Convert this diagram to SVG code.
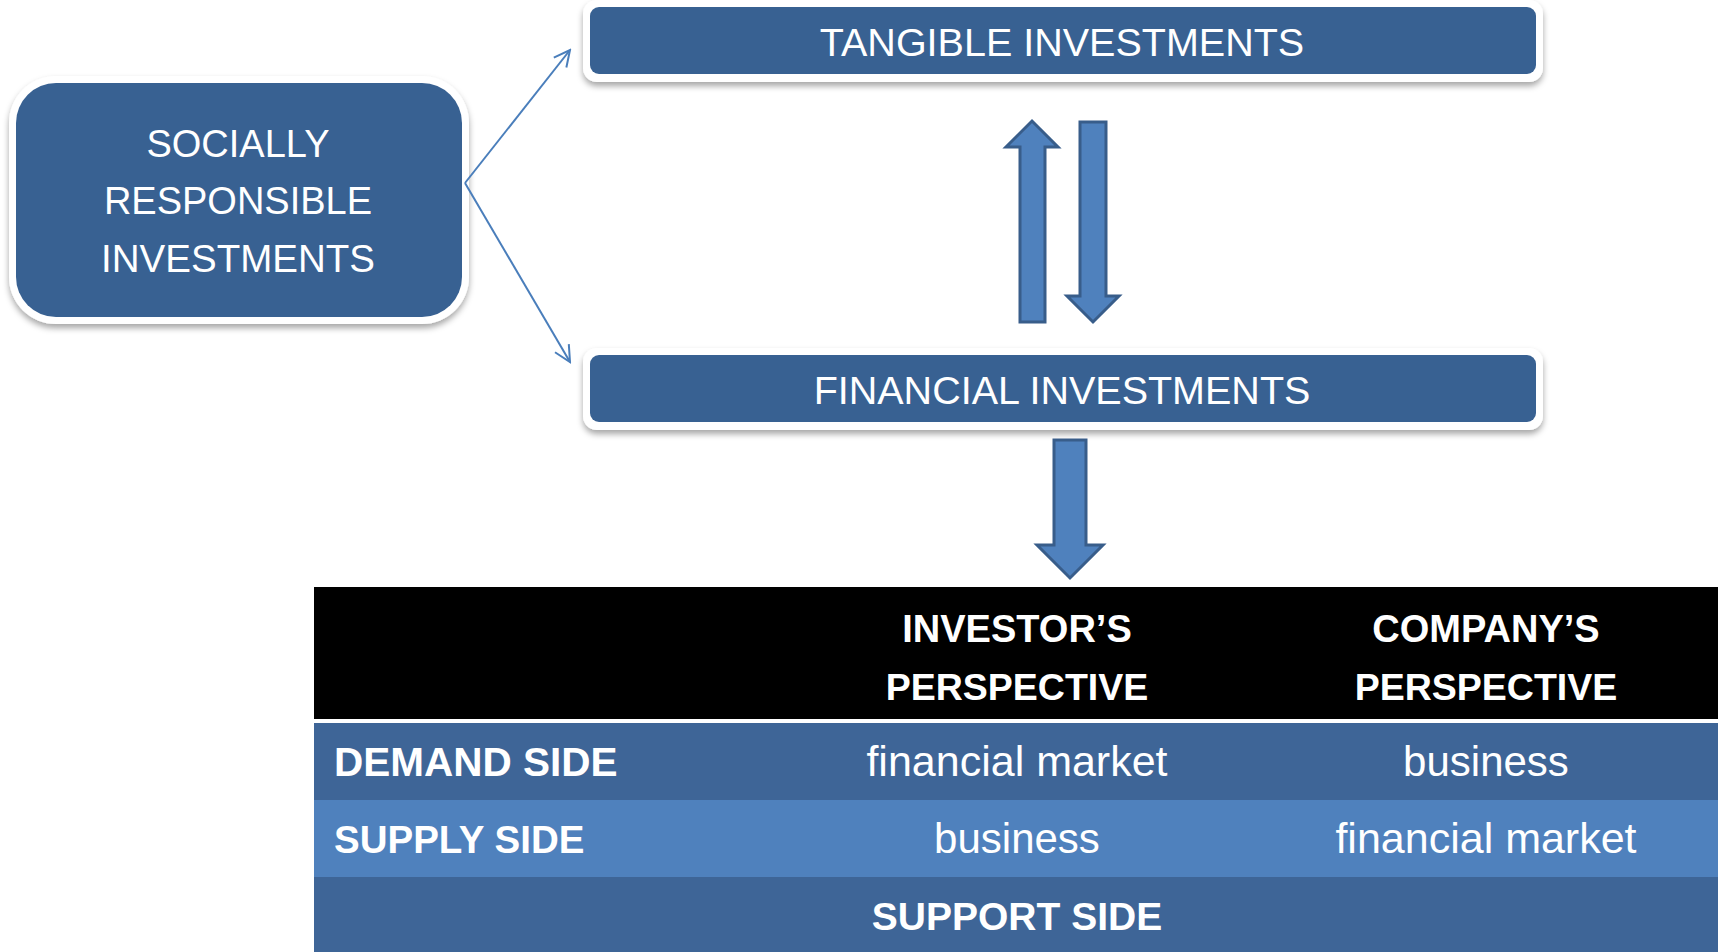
<svg xmlns="http://www.w3.org/2000/svg" width="1718" height="952" viewBox="0 0 1718 952">
<style>
.frame{fill:#ffffff;}
.box{fill:#386192;}
.t{font-family:"Liberation Sans",Arial,sans-serif;fill:#ffffff;}
.bt{font-size:38px;text-anchor:middle;}
.bw{font-size:39.5px;text-anchor:middle;}
.hd{font-size:38px;font-weight:bold;text-anchor:middle;}
.lb{font-size:39.5px;font-weight:bold;}
.cell{font-size:43px;text-anchor:middle;}
.conn{stroke:#4a7ebb;stroke-width:2;fill:none;}
.blk{fill:#4f81bd;stroke:#385d8a;stroke-width:3;stroke-linejoin:miter;}
</style>
<defs>
<filter id="sh" x="-5%" y="-20%" width="110%" height="150%">
<feDropShadow dx="0" dy="4" stdDeviation="3" flood-color="#000000" flood-opacity="0.35"/>
</filter>
<marker id="open" viewBox="0 0 20 20" refX="18" refY="10" markerWidth="20" markerHeight="20" markerUnits="userSpaceOnUse" orient="auto">
<path d="M2,2 L18,10 L2,18" fill="none" stroke="#4a7ebb" stroke-width="2"/>
</marker>
</defs>

<g id="node-sri">
<rect class="frame" x="9" y="76" width="460" height="248" rx="47" filter="url(#sh)"/>
<rect class="box" x="16" y="83" width="446" height="234" rx="40"/>
<text class="t bt" x="238" y="157">SOCIALLY</text>
<text class="t bt" x="238" y="214">RESPONSIBLE</text>
<text class="t bt" x="238" y="272" style="font-size:38.5px">INVESTMENTS</text>
</g>

<g id="node-tangible">
<rect class="frame" x="583" y="0" width="960" height="82" rx="14" filter="url(#sh)"/>
<rect class="box" x="590" y="7" width="946" height="67" rx="9"/>
<text class="t bw" x="1062" y="56">TANGIBLE INVESTMENTS</text>
</g>

<g id="node-financial">
<rect class="frame" x="583" y="348" width="960" height="82" rx="14" filter="url(#sh)"/>
<rect class="box" x="590" y="355" width="946" height="67" rx="9"/>
<text class="t bw" x="1062" y="404">FINANCIAL INVESTMENTS</text>
</g>

<g id="connectors">
<line class="conn" x1="465" y1="183" x2="570" y2="50" marker-end="url(#open)"/>
<line class="conn" x1="465" y1="183" x2="570" y2="362" marker-end="url(#open)"/>
<path id="arrow-up" class="blk" d="M1020,322 L1020,147 L1006,147 L1032,121 L1058,147 L1045,147 L1045,322 Z"/>
<path id="arrow-down" class="blk" d="M1080,122 L1106,122 L1106,296 L1119,296 L1093,322 L1067,296 L1080,296 Z"/>
<path id="arrow-table" class="blk" d="M1054,440 L1086,440 L1086,545 L1103,545 L1070,578 L1037,545 L1054,545 Z"/>
</g>

<g id="table">
<rect x="314" y="587" width="1404" height="132" fill="#000000"/>
<rect x="314" y="719" width="1404" height="4" fill="#ffffff"/>
<rect x="314" y="723" width="1404" height="77" fill="#3e6597"/>
<rect x="314" y="800" width="1404" height="77" fill="#4f81bd"/>
<rect x="314" y="877" width="1404" height="75" fill="#3e6597"/>
<text class="t hd" x="1017" y="642">INVESTOR’S</text>
<text class="t hd" x="1017" y="700" style="font-size:37.5px">PERSPECTIVE</text>
<text class="t hd" x="1486" y="642">COMPANY’S</text>
<text class="t hd" x="1486" y="700" style="font-size:37.5px">PERSPECTIVE</text>
<text class="t lb" x="334" y="776" style="font-size:40.5px">DEMAND SIDE</text>
<text class="t cell" x="1017" y="776">financial market</text>
<text class="t cell" x="1486" y="776" style="font-size:42px">business</text>
<text class="t lb" x="334" y="853" style="font-size:38.5px">SUPPLY SIDE</text>
<text class="t cell" x="1017" y="853" style="font-size:42px">business</text>
<text class="t cell" x="1486" y="853">financial market</text>
<text class="t hd" x="1017" y="930" style="font-size:39px">SUPPORT SIDE</text>
</g>
</svg>
